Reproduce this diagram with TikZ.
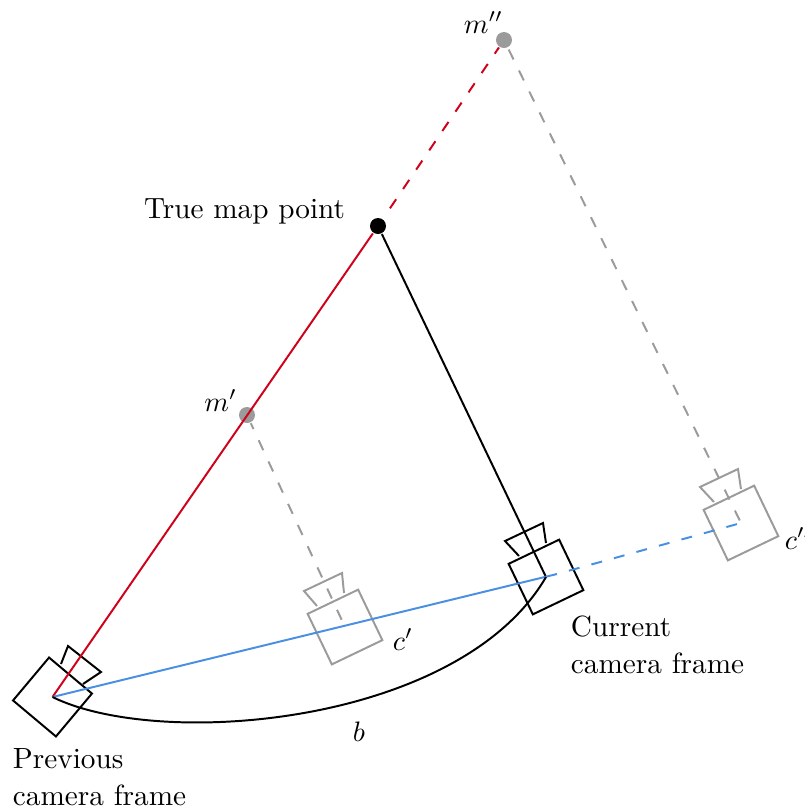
\documentclass[tikz,border=0pt]{standalone}
\usepackage{tikz}
\definecolor{linered}{HTML}{D0021B}
\definecolor{lineblue}{HTML}{4A90E2}
\definecolor{ghost}{HTML}{9B9B9B}

\tikzset{
	dot/.style={circle,fill,inner sep=0pt,minimum size=0.2cm},
	cambody/.style={draw,rectangle,inner sep=0pt,outer sep=0pt,minimum size=0.7cm},
	label/.style={font=\fontsize{10.4}{13.1}\selectfont,inner sep=0pt},
	sparse/.style={dash pattern=on 3.9pt off 4.4pt},
}

\begin{document}
\begin{tikzpicture}[x=0.0125cm,y=-0.0125cm,line width=0.7pt]
		\useasboundingbox (0,0) rectangle (805,812);

		% camera bodies
		\node[cambody,rotate=-40] (prev) at (52.5,697) {};
		\node[cambody,rotate=25.6] (curr) at (546,577) {};
		\node[cambody,rotate=25.6,ghost] (cone) at (345,627) {};
		\node[cambody,rotate=25.6,ghost] (ctwo) at (741,523) {};
		\coordinate (blueend) at (557,574);

		% camera lenses
		\draw (61,664) -- (68,646) -- (101,672) -- (83,684);
		\draw (519,556) -- (505,541) -- (543,523) -- (546,543);
		\draw[ghost] (317,606) -- (304,591) -- (342,573) -- (344,593);
		\draw[ghost] (714,502) -- (700,487) -- (738,469) -- (741,489);

		% map points
		\node[dot] (true) at (378,226) {};
		\node[dot,ghost] (mone) at (247,415) {};
		\node[dot,ghost] (mtwo) at (504,40) {};

		% rays
		\draw[linered] (prev.center) -- (true);
		\draw[linered,sparse,dash phase=3.9pt] (true) -- (mtwo);
		\draw (true) -- (curr.center);
		\draw[ghost,sparse,dash phase=1.6pt] (mone) -- (cone.center);
		\draw[ghost,sparse,dash phase=7.7pt] (mtwo) -- (ctwo.center);

		% baseline
		\draw[lineblue] (prev.center) -- (blueend);
		\draw[lineblue,sparse,dash phase=3.9pt] (blueend) -- (ctwo.center);
		\draw (prev.center) .. controls (160,750) and (460,725) .. (curr.center);

		% labels
		\node[label,anchor=base east] (truelabel) at (346,218) {True map point};
		\node[label,anchor=base east] (monelabel) at (238,411) {$m'$};
		\node[label,anchor=base east] (mtwolabel) at (504,33) {$m''$};
		\node[label,anchor=base west] (conelabel) at (392,650) {$c'$};
		\node[label,anchor=base west] (ctwolabel) at (784,549) {$c''$};
		\node[label,anchor=base] (blabel) at (359,741) {$b$};
		\node[label,anchor=north west,align=left] (prevlabel) at (12,748) {Previous\\camera frame};
		\node[label,anchor=north west,align=left] (currlabel) at (570,615) {Current\\camera frame};
	\end{tikzpicture}
\end{document}
